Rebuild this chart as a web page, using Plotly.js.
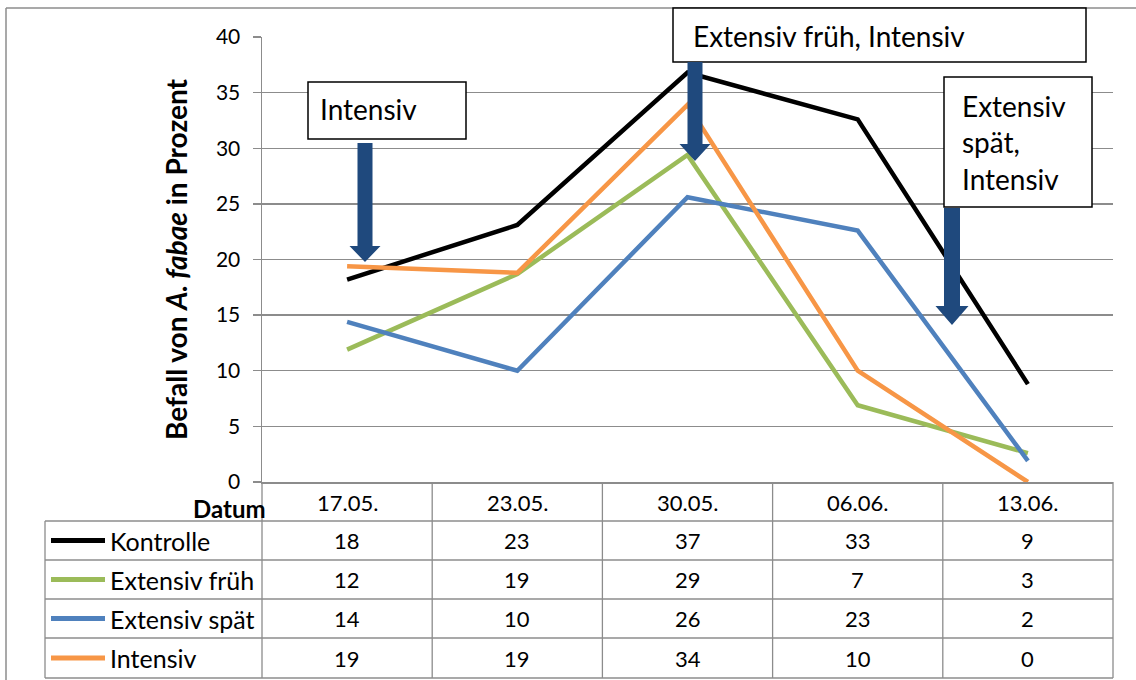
<!DOCTYPE html>
<html>
<head>
<meta charset="utf-8">
<script src="https://cdn.plot.ly/plotly-3.0.1.min.js"></script>
<style>
  html, body { margin: 0; padding: 0; background: #fff; }
  #chart { width: 1136px; height: 680px; }
</style>
</head>
<body>
<div id="chart"></div>
<script>
// Befall von A. fabae (%) je Erhebungsdatum und Behandlung
const dates = ['17.05.', '23.05.', '30.05.', '06.06.', '13.06.'];
const seriesNames = ['Kontrolle', 'Extensiv früh', 'Extensiv spät', 'Intensiv'];
const kontrolle = [18.2, 23.1, 36.8, 32.6, 8.8];
const extensivFrueh = [11.9, 18.7, 29.4, 6.9, 2.6];
const extensivSpaet = [14.4, 10.0, 25.6, 22.6, 1.9];
const intensiv = [19.4, 18.8, 33.9, 10.0, 0.0];
const yTicks = [0, 5, 10, 15, 20, 25, 30, 35, 40];

// Spritztermine: Beschriftung der Textfelder
const treatmentLabels = ['Intensiv', 'Extensiv früh, Intensiv', 'Extensiv<br>spät,<br>Intensiv'];

const seriesValues = [kontrolle, extensivFrueh, extensivSpaet, intensiv];
const seriesColors = ['#000000', '#9BBB59', '#4F81BD', '#F79646'];

const FONT = 'Lato, "Open Sans", sans-serif';
const GRID = '#8C8C8C';
const ARROW = '#1F497D';

// Seitengeometrie (Pixel)
const W = 1136, H = 680;
const M = { l: 262, r: 23, t: 37, b: 198 };
const plotW = W - M.l - M.r;
const plotH = H - M.t - M.b;
const px = x => (x - M.l) / plotW;          // Pixel -> paper x
const py = y => (M.t + plotH - y) / plotH;  // Pixel -> paper y

// Datentabelle unter der Zeichenfläche
const tableLeft = 45;
const axisBottom = M.t + plotH;           // 482
const rowTops = [521, 560, 599, 638, 678];
const nCols = dates.length;
const colX = i => i / nCols;              // paper x der Spaltengrenzen

const traces = seriesNames.map((name, k) => ({
  type: 'scatter',
  mode: 'lines',
  name: name,
  x: dates,
  y: seriesValues[k],
  line: { color: seriesColors[k], width: 4.5 },
  hoverinfo: 'x+y+name'
}));

const shapes = [];
const annotations = [];
const lineShape = (x0, y0, x1, y1, color, width) => ({
  type: 'line', xref: 'paper', yref: 'paper',
  x0: x0, y0: y0, x1: x1, y1: y1,
  line: { color: color, width: width }, layer: 'above'
});

// Rahmen des Diagrammbereichs
shapes.push(lineShape(px(6), py(8), px(6), py(H + 2), GRID, 1.5));
shapes.push(lineShape(px(6), py(8), px(W + 2), py(8), GRID, 1.5));

// Tabellenlinien: horizontale Zeilen
rowTops.forEach(y => shapes.push(lineShape(px(tableLeft), py(y), 1, py(y), GRID, 1.3)));
// linke Kante der Tabelle
shapes.push(lineShape(px(tableLeft), py(rowTops[0]), px(tableLeft), py(rowTops[rowTops.length - 1]), GRID, 1.3));
// Spaltengrenzen (inkl. Verlängerung der Y-Achse)
for (let i = 0; i <= nCols; i++) {
  shapes.push(lineShape(colX(i), py(axisBottom), colX(i), py(rowTops[rowTops.length - 1]), GRID, 1.3));
}

// Kopfzeile der Tabelle
annotations.push({
  xref: 'paper', yref: 'paper', x: px(268), y: py(508),
  xanchor: 'right', yanchor: 'middle', showarrow: false,
  text: '<b>Datum</b>', font: { family: FONT, size: 24, color: '#000' }
});
dates.forEach((d, i) => annotations.push({
  xref: 'x', yref: 'paper', x: d, y: py(502),
  xanchor: 'center', yanchor: 'middle', showarrow: false,
  text: d, font: { family: FONT, size: 22, color: '#000' }
}));

// Zeilen: Legendenstrich, Name, gerundete Werte
seriesNames.forEach((name, k) => {
  const yc = (rowTops[k] + rowTops[k + 1]) / 2;
  shapes.push(lineShape(px(51), py(yc), px(105), py(yc), seriesColors[k], 5));
  annotations.push({
    xref: 'paper', yref: 'paper', x: px(108), y: py(yc),
    xanchor: 'left', yanchor: 'middle', showarrow: false,
    text: name, font: { family: FONT, size: 25, color: '#000' }
  });
  seriesValues[k].forEach((v, i) => annotations.push({
    xref: 'x', yref: 'paper', x: dates[i], y: py(yc),
    xanchor: 'center', yanchor: 'middle', showarrow: false,
    text: String(Math.round(v)), font: { family: FONT, size: 22, color: '#000' }
  }));
});

// Textfelder zu den Behandlungsterminen
const boxes = [
  { x0: 308, y0: 82, x1: 466, y1: 139, text: treatmentLabels[0], tx: 318, ty: 109 },
  { x0: 673, y0: 8, x1: 1086, y1: 62, text: treatmentLabels[1], tx: 691, ty: 36 },
  { x0: 944, y0: 77, x1: 1092, y1: 207, text: treatmentLabels[2], tx: 960, ty: 142 }
];
boxes.forEach(b => {
  shapes.push({
    type: 'rect', xref: 'paper', yref: 'paper',
    x0: px(b.x0), y0: py(b.y0), x1: px(b.x1), y1: py(b.y1),
    fillcolor: '#fff', line: { color: '#000', width: 1.5 }, layer: 'above'
  });
  annotations.push({
    xref: 'paper', yref: 'paper', x: px(b.tx), y: py(b.ty),
    xanchor: 'left', yanchor: 'middle', align: 'left', showarrow: false,
    text: b.text, font: { family: FONT, size: 28, color: '#000' }
  });
});

// Blockpfeile unter den Textfeldern
const arrows = [
  { cx: 365, top: 143, neck: 246, tip: 262, shaft: 15, head: 31 },
  { cx: 695, top: 62, neck: 144, tip: 161, shaft: 15, head: 31 },
  { cx: 952, top: 208, neck: 306, tip: 325, shaft: 16, head: 33 }
];
arrows.forEach(a => {
  const pts = [
    [a.cx - a.shaft / 2, a.top], [a.cx + a.shaft / 2, a.top],
    [a.cx + a.shaft / 2, a.neck], [a.cx + a.head / 2, a.neck],
    [a.cx, a.tip], [a.cx - a.head / 2, a.neck],
    [a.cx - a.shaft / 2, a.neck]
  ];
  const path = 'M' + pts.map(p => px(p[0]).toFixed(5) + ',' + py(p[1]).toFixed(5)).join(' L') + ' Z';
  shapes.push({
    type: 'path', xref: 'paper', yref: 'paper', path: path,
    fillcolor: ARROW, line: { color: ARROW, width: 0 }, layer: 'above'
  });
});

const layout = {
  width: W, height: H,
  margin: M,
  paper_bgcolor: '#fff', plot_bgcolor: '#fff',
  showlegend: false,
  font: { family: FONT, color: '#000' },
  xaxis: {
    type: 'category', categoryorder: 'array', categoryarray: dates,
    range: [-0.5, nCols - 0.5], fixedrange: true,
    showticklabels: false, showgrid: false, zeroline: false,
    showline: true, linecolor: GRID, linewidth: 1.5, ticks: ''
  },
  yaxis: {
    range: [0, 40], tickvals: yTicks, ticktext: yTicks.map(String),
    showgrid: true, gridcolor: GRID, gridwidth: 1.3, zeroline: false,
    showline: true, linecolor: GRID, linewidth: 1.5,
    ticks: 'outside', ticklen: 8, tickcolor: GRID, tickwidth: 1.3,
    ticklabelstandoff: 8,
    tickfont: { family: FONT, size: 21, color: '#000' },
    title: {
      text: '<b>Befall von <i>A. fabae</i> in Prozent</b>',
      font: { family: FONT, size: 28, color: '#000' },
      standoff: 20
    }
  },
  shapes: shapes,
  annotations: annotations
};

Plotly.newPlot('chart', traces, layout, { displayModeBar: false, staticPlot: true });
</script>
</body>
</html>
